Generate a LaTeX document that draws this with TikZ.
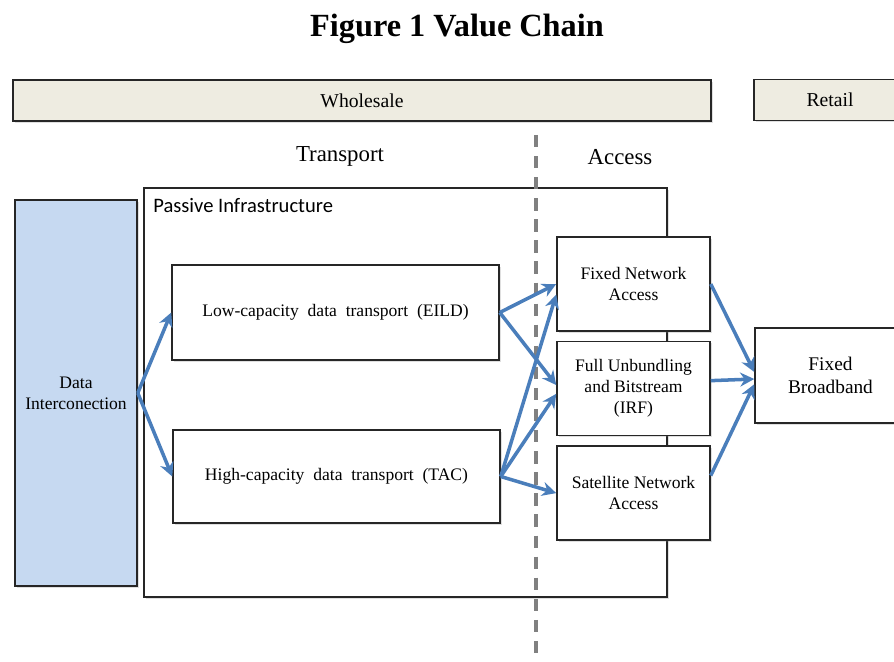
\documentclass[tikz,border=0pt]{standalone}
\usepackage{fontspec}
\setmainfont{Liberation Serif}
\newfontfamily\calibrifont{Carlito}
\usetikzlibrary{arrows.meta,positioning,shadows}

\definecolor{tanbg}{HTML}{EEECE1}
\definecolor{paleblue}{HTML}{C6D9F1}
\definecolor{flowblue}{HTML}{4A7EBB}

\begin{document}
\begin{tikzpicture}[
  x=0.02cm, y=-0.02cm,
  box/.style={rectangle, draw=black!85, line width=0.9pt, fill=white, align=center,
    font=\fontsize{10}{12}\selectfont,
    drop shadow={shadow xshift=1pt, shadow yshift=-1pt, opacity=0.25}},
  band/.style={box, fill=tanbg, minimum height=0.82cm, font=\fontsize{11.2}{13}\selectfont},
  access/.style={box, minimum width=3.06cm, minimum height=1.88cm},
  column/.style={font=\fontsize{13}{15}\selectfont},
  arrow/.style={-{Stealth[length=8pt, width=8pt]}, line width=2pt, draw=flowblue},
  divider/.style={draw=black!50, line width=2pt, dash pattern=on 7pt off 5pt},
  node distance=0.18cm
]
  \useasboundingbox (0,0) rectangle (894,662);

  \node (title) at (457,29) {\fontsize{18.4}{22}\selectfont\bfseries Figure 1 Value Chain};

  % top bands
  \node (wholesale) [band, minimum width=13.96cm] at (362,100.5) {Wholesale};
  \node (retail) [band, minimum width=3.04cm] at (830,100) {Retail};

  \node (transport) [column] at (340,156) {Transport};
  \node (accesshead) [column] at (620,157) {Access};

  % passive infrastructure frame
  \node (passive) [box, minimum width=10.46cm, minimum height=8.18cm] at (405.5,392.5) {};
  \node (passivelbl) [anchor=north west, inner sep=0pt, font=\calibrifont\fontsize{11.7}{14}\selectfont]
    at (153,198) {Passive Infrastructure};

  \coordinate (divtop) at (536,135);
  \coordinate (divbot) at (536,662);
  \draw [divider] (divtop) -- (divbot);

  \node (datainter) [box, fill=paleblue, minimum width=2.44cm, minimum height=7.72cm] at (76,393)
    {Data\\Interconection};

  \node (low) [box, minimum width=6.54cm, minimum height=1.9cm] at (335.5,312.5)
    {Low-capacity\ \ data\ \ transport\ \ (EILD)};
  \node (high) [box, minimum width=6.54cm, minimum height=1.86cm] at (336.5,476.5)
    {High-capacity\ \ data\ \ transport\ \ (TAC)};

  \node (fixednet) [access] at (633.5,284) {Fixed Network\\Access};
  \node (unbundle) [access, below=of fixednet] {Full Unbundling\\and Bitstream\\(IRF)};
  \node (satellite) [access, below=0.18cm of unbundle] {Satellite Network\\Access};

  \node (broadband) [box, minimum width=3.02cm, minimum height=1.9cm, font=\fontsize{11}{13}\selectfont]
    at (830.5,375.5) {Fixed\\Broadband};

  \draw [arrow] (datainter.east) -- (low.west);
  \draw [arrow] (datainter.east) -- (high.west);

  \draw [arrow] (low.east) -- (fixednet.west);
  \draw [arrow] (low.east) -- ([yshift=2pt]unbundle.west);
  \draw [arrow] (high.east) -- ([yshift=-6pt]fixednet.west);
  \draw [arrow] (high.east) -- ([yshift=-3pt]unbundle.west);
  \draw [arrow] (high.east) -- (satellite.west);

  \draw [arrow] (fixednet.east) -- ([yshift=2pt]broadband.west);
  \draw [arrow] ([yshift=4.5pt]unbundle.east) -- ([yshift=-2pt]broadband.west);
  \draw [arrow] ([yshift=10pt]satellite.east) -- ([yshift=-5pt]broadband.west);
\end{tikzpicture}
\end{document}
